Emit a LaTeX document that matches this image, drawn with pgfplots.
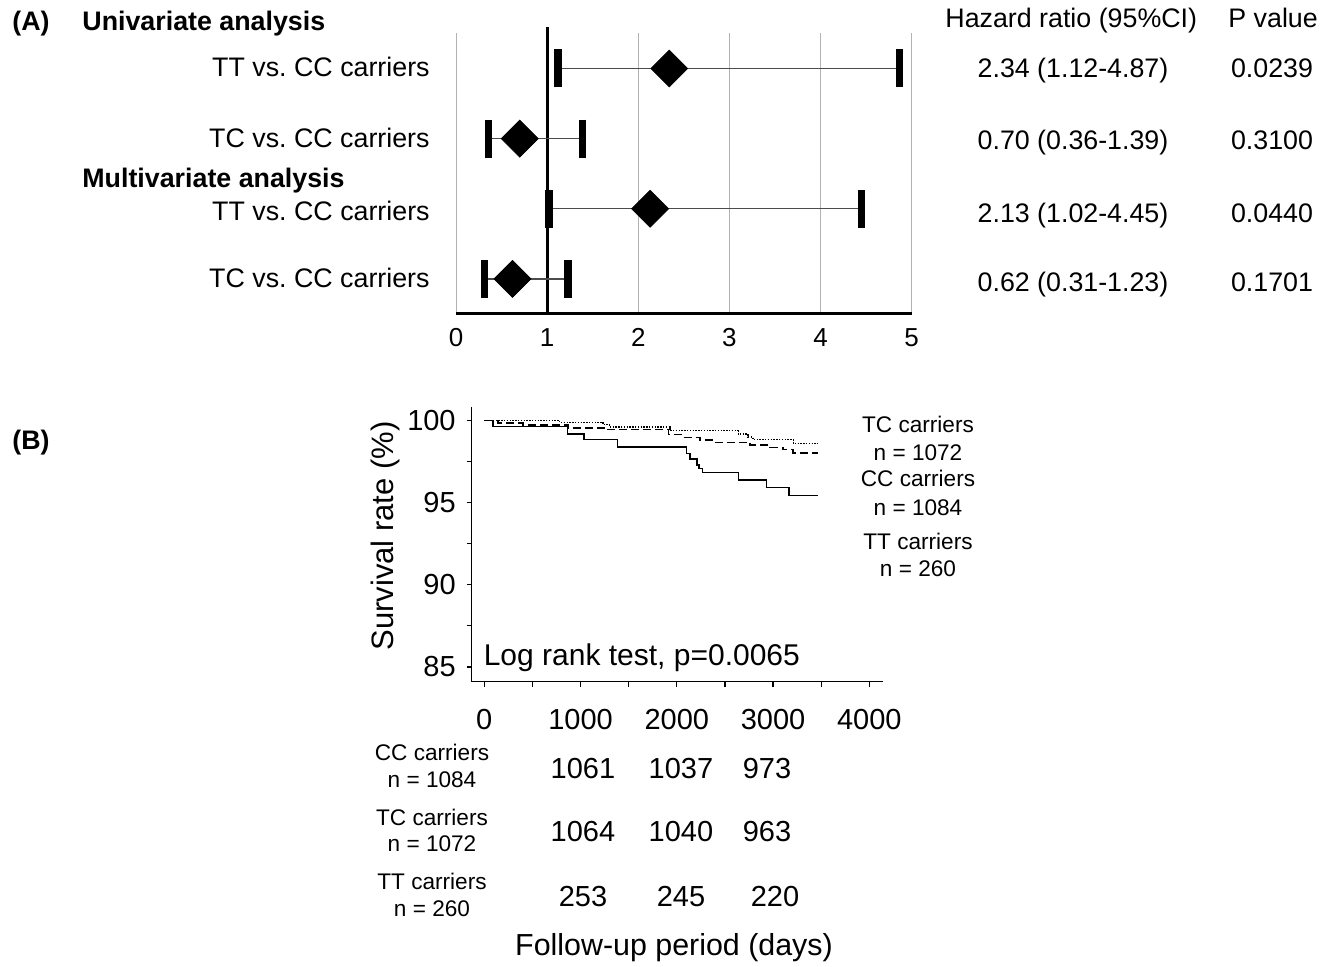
\documentclass[border=0pt]{standalone}
\usepackage{fontspec}
\setmainfont{Liberation Sans}
\usepackage{pgfplots}
\pgfplotsset{compat=1.18}
\newcommand{\fs}[1]{\fontsize{#1}{#1}\selectfont}
\frenchspacing

\begin{document}
\begin{tikzpicture}[txt/.style={inner sep=0pt}]
\useasboundingbox (0,0) rectangle (667pt,-483pt);

% ---------------- (A) forest plot ----------------
\begin{axis}[
  at={(228pt,-156.65pt)}, anchor=south west,
  scale only axis, width=227.8pt, height=140.3pt,
  xmin=0, xmax=5, ymin=0.51, ymax=4.51,
  axis x line=bottom, axis y line=none,
  x axis line style={-, line width=1.6pt},
  xtick={0,1,2,3,4,5}, ytick=\empty, major tick length=0pt,
  xmajorgrids, grid style={black!30, line width=0.5pt},
  clip=false,
  /pgf/number format/assume math mode=true,
  xticklabel style={font=\fs{13}, yshift=-4pt},
]
\addplot[black, line width=1.6pt] coordinates {(1,0.51) (1,4.59)};
\addplot[only marks, mark=none,
  error bars/.cd, x dir=both, x explicit,
  error bar style={line width=0.6pt, black!70},
  error mark options={black, line width=3.6pt, mark size=9.5pt, rotate=90}]
  coordinates {
  (2.34,4) += (2.53,0) -= (1.22,0)
  (0.70,3) += (0.69,0) -= (0.34,0)
  (2.13,2) += (2.32,0) -= (1.11,0)
  (0.62,1) += (0.61,0) -= (0.31,0)
};
\addplot[only marks, mark=square*, mark size=6.5pt,
  mark options={rotate=45, fill=black, draw=black}]
  coordinates {(2.34,4) (0.70,3) (2.13,2) (0.62,1)};
\end{axis}

\node[txt, anchor=base west, font=\bfseries\fs{13.4}] at (6pt,-15pt) {(A)};
\node[txt, anchor=base west, font=\bfseries\fs{13.4}] at (41pt,-15pt) {Univariate analysis};
\node[txt, anchor=base west, font=\bfseries\fs{13.4}] at (41pt,-93.7pt) {Multivariate analysis};
\node[txt, anchor=base east, font=\fs{13.4}] at (215pt,-38.35pt) {TT vs. CC carriers};
\node[txt, anchor=base east, font=\fs{13.4}] at (215pt,-73.85pt) {TC vs. CC carriers};
\node[txt, anchor=base east, font=\fs{13.4}] at (215pt,-110pt) {TT vs. CC carriers};
\node[txt, anchor=base east, font=\fs{13.4}] at (215pt,-143.65pt) {TC vs. CC carriers};

\node[txt, anchor=base west, font=\fs{13.4}] at (472.5pt,-13.5pt) {Hazard ratio (95\%CI)};
\node[txt, anchor=base west, font=\fs{13.4}] at (614pt,-13.5pt) {P value};
\node[txt, anchor=base, font=\fs{13.4}] at (536.5pt,-38.5pt) {2.34 (1.12-4.87)};
\node[txt, anchor=base, font=\fs{13.4}] at (536.5pt,-74.5pt) {0.70 (0.36-1.39)};
\node[txt, anchor=base, font=\fs{13.4}] at (536.5pt,-111pt) {2.13 (1.02-4.45)};
\node[txt, anchor=base, font=\fs{13.4}] at (536.5pt,-145.5pt) {0.62 (0.31-1.23)};
\node[txt, anchor=base, font=\fs{13.4}] at (636pt,-38.5pt) {0.0239};
\node[txt, anchor=base, font=\fs{13.4}] at (636pt,-74.5pt) {0.3100};
\node[txt, anchor=base, font=\fs{13.4}] at (636pt,-111pt) {0.0440};
\node[txt, anchor=base, font=\fs{13.4}] at (636pt,-145.5pt) {0.1701};

% ---------------- (B) Kaplan-Meier ----------------
\begin{axis}[
  at={(235.85pt,-340.85pt)}, anchor=south west,
  scale only axis, width=205.8pt, height=137.5pt,
  xmin=-131, xmax=4145, ymin=84.1, ymax=100.85,
  axis lines=left, axis line style={-, line width=0.6pt},
  xtick={0,1000,2000,3000,4000}, minor xtick={500,1500,2500,3500},
  ytick={85,90,95,100}, minor ytick={87.5,92.5,97.5},
  tick align=outside, major tick length=2.5pt, minor tick length=2.5pt,
  tick style={black, line width=0.6pt},
  scaled x ticks=false,
  /pgf/number format/1000 sep={},
  /pgf/number format/assume math mode=true,
  xticklabel style={font=\fs{14.5}, yshift=-7.5pt},
  yticklabel style={font=\fs{14.5}, xshift=-2pt},
  ylabel={Survival rate (\%)},
  ylabel style={font=\fs{15.5}, at={(axis description cs:-0.21,0.53)}, anchor=center},
  clip=false,
]
% TC carriers (dotted)
\addplot[const plot, black, line width=0.8pt, dash pattern=on 0.7pt off 0.7pt] coordinates {
  (0,100) (783,99.9) (1233,99.76) (1300,99.63) (1929,99.39) (2639,99.19)
  (2740,99.0) (2790,98.85) (3211,98.62) (3470,98.62)
};
% CC carriers (dashed)
\addplot[const plot, black, line width=0.75pt, dash pattern=on 4pt off 2pt] coordinates {
  (0,100) (140,99.85) (400,99.75) (870,99.55) (1250,99.45) (1912,99.15)
  (2068,98.98) (2241,98.82) (2379,98.68) (2761,98.52) (2968,98.37)
  (3104,98.23) (3208,98.03) (3470,98.03)
};
% TT carriers (solid)
\addplot[const plot, black, line width=0.75pt] coordinates {
  (0,100) (90,99.63) (863,99.19) (1036,98.84) (1382,98.41) (2103,98.0)
  (2137,97.66) (2207,97.3) (2230,97.09) (2268,96.85) (2639,96.38)
  (2933,95.93) (3165,95.43) (3470,95.43)
};
\end{axis}

\node[txt, anchor=base west, font=\bfseries\fs{13.4}] at (6pt,-224.5pt) {(B)};
\node[txt, anchor=base west, font=\fs{15}] at (241.7pt,-332.5pt) {Log rank test, p=0.0065};

\node[txt, anchor=base, font=\fs{11.3}] at (459pt,-216.15pt) {TC carriers};
\node[txt, anchor=base, font=\fs{11.3}] at (459pt,-230pt) {n = 1072};
\node[txt, anchor=base, font=\fs{11.3}] at (459pt,-243.35pt) {CC carriers};
\node[txt, anchor=base, font=\fs{11.3}] at (459pt,-257.5pt) {n = 1084};
\node[txt, anchor=base, font=\fs{11.3}] at (459pt,-274.5pt) {TT carriers};
\node[txt, anchor=base, font=\fs{11.3}] at (459pt,-288.35pt) {n = 260};

\node[txt, anchor=base, font=\fs{11.3}] at (216pt,-380pt) {CC carriers};
\node[txt, anchor=base, font=\fs{11.3}] at (216pt,-393.65pt) {n = 1084};
\node[txt, anchor=base, font=\fs{11.3}] at (216pt,-412.5pt) {TC carriers};
\node[txt, anchor=base, font=\fs{11.3}] at (216pt,-425.85pt) {n = 1072};
\node[txt, anchor=base, font=\fs{11.3}] at (216pt,-444.65pt) {TT carriers};
\node[txt, anchor=base, font=\fs{11.3}] at (216pt,-458.35pt) {n = 260};

\node[txt, anchor=base, font=\fs{14.5}] at (291.5pt,-389.15pt) {1061};
\node[txt, anchor=base, font=\fs{14.5}] at (340.5pt,-389.15pt) {1037};
\node[txt, anchor=base, font=\fs{14.5}] at (383.5pt,-389.15pt) {973};
\node[txt, anchor=base, font=\fs{14.5}] at (291.5pt,-420.85pt) {1064};
\node[txt, anchor=base, font=\fs{14.5}] at (340.5pt,-420.85pt) {1040};
\node[txt, anchor=base, font=\fs{14.5}] at (383.5pt,-420.85pt) {963};
\node[txt, anchor=base, font=\fs{14.5}] at (291.5pt,-453.35pt) {253};
\node[txt, anchor=base, font=\fs{14.5}] at (340.5pt,-453.35pt) {245};
\node[txt, anchor=base, font=\fs{14.5}] at (387.5pt,-453.35pt) {220};

\node[txt, anchor=base, font=\fs{15.2}] at (337pt,-477.5pt) {Follow-up period (days)};
\end{tikzpicture}
\end{document}
